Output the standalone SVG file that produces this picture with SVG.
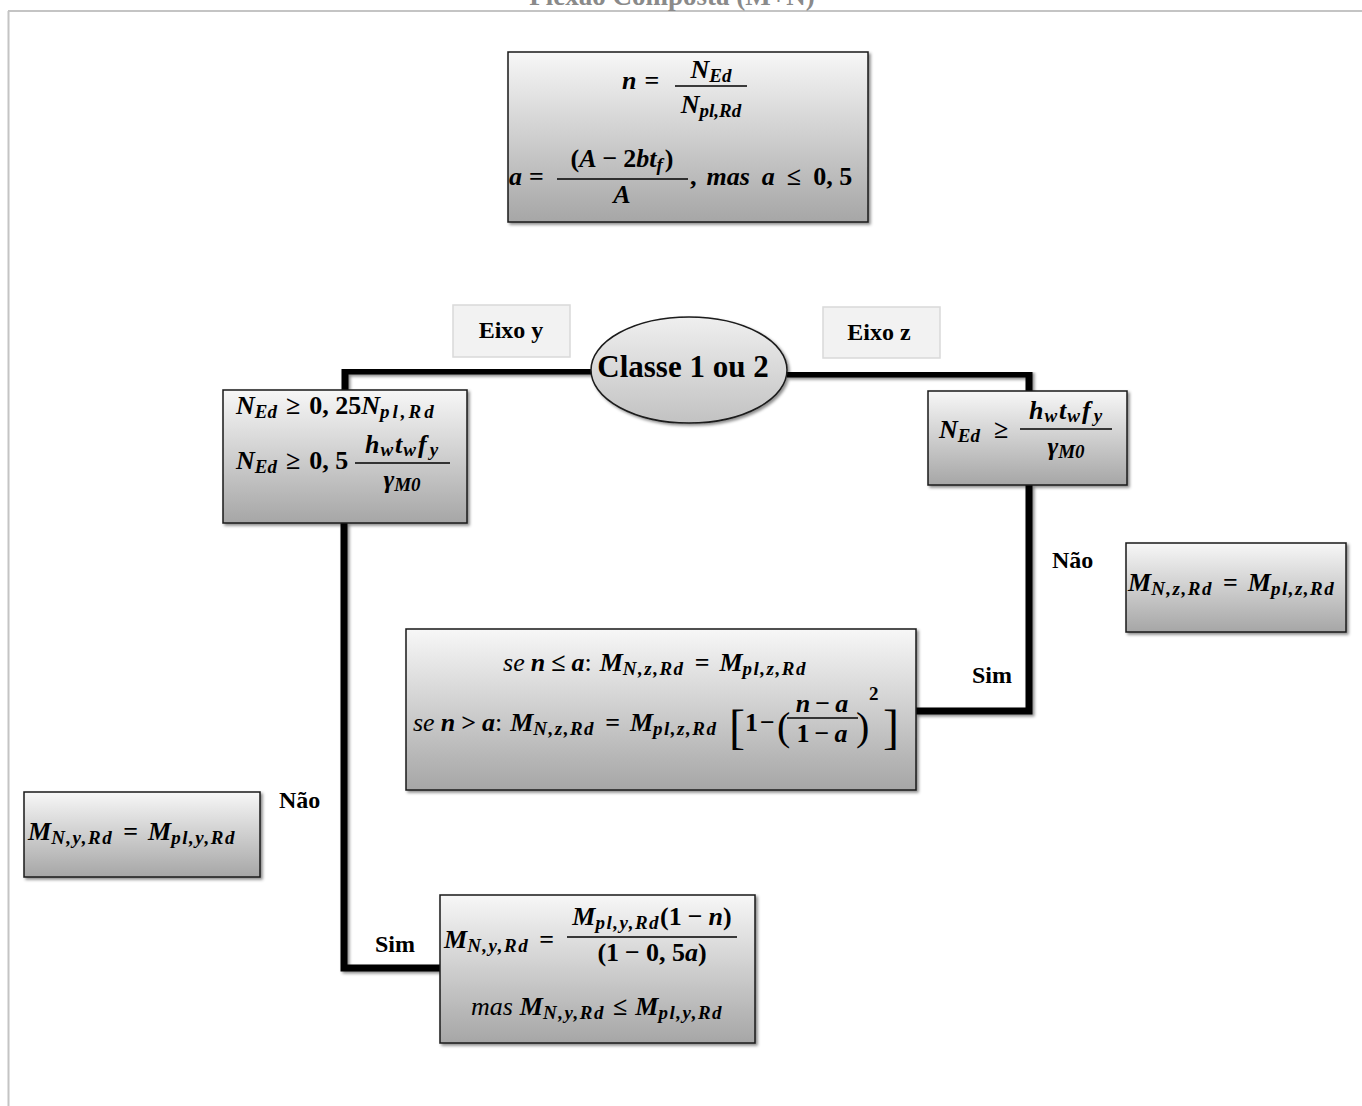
<svg xmlns="http://www.w3.org/2000/svg" width="1362" height="1106" viewBox="0 0 1362 1106">
<style>
.mi{font-family:"Liberation Serif","Times New Roman",serif;font-weight:bold;font-style:italic;font-size:26px;fill:#000}
.up{font-style:normal}
.sb{font-size:19px}
.it{font-weight:normal}
.br{font-family:"Liberation Serif","Times New Roman",serif;font-weight:normal;font-style:normal;fill:#000}
.lbl{font-family:"Liberation Serif","Times New Roman",serif;font-weight:bold;font-size:24px;fill:#000}
.box{fill:url(#g);stroke:#1a1a1a;stroke-width:1.5;filter:url(#sh)}
.bar{stroke:#000;stroke-width:1.5}
.conn{fill:none;stroke:#000;stroke-width:7;stroke-linejoin:miter;filter:url(#sh)}
.tag{fill:#f2f2f2;stroke:#d9d9d9;stroke-width:1.5}
</style>
<defs>
<linearGradient id="g" x1="0" y1="0" x2="0" y2="1">
<stop offset="0" stop-color="#f7f7f7"/>
<stop offset="1" stop-color="#a6a6a6"/>
</linearGradient>
<linearGradient id="ge" x1="0" y1="0" x2="0" y2="1">
<stop offset="0" stop-color="#efefef"/>
<stop offset="1" stop-color="#c2c2c2"/>
</linearGradient>
<filter id="sh" x="-10%" y="-10%" width="130%" height="130%">
<feDropShadow dx="2" dy="2" stdDeviation="1.5" flood-color="#000" flood-opacity="0.45"/>
</filter>
</defs>

<rect width="1362" height="1106" fill="#fff"/>
<g id="frame">
<path d="M8 11 H1362 M8.5 11 V1106" fill="none" stroke="#c4c4c4" stroke-width="2"/>
<text x="672" y="5" text-anchor="middle" font-family="Liberation Serif, serif" font-weight="bold" font-size="27" fill="#8a8a8a">Flexão Composta (M+N)</text>
</g>

<g id="connectors">
<path class="conn" d="M689 222 V318"/>
<path class="conn" d="M591 371 H345 V390"/>
<path class="conn" d="M787 374 H1029 V391"/>
<path class="conn" d="M1029 485 V711 H916"/>
<path class="conn" d="M1029 586 H1126"/>
<path class="conn" d="M344 523 V968 H440"/>
<path class="conn" d="M344 832 H260"/>
</g>

<g id="labels">
<rect class="tag" x="453" y="305" width="117" height="52"/>
<text class="lbl" x="511" y="338" text-anchor="middle" font-size="25">Eixo y</text>
<rect class="tag" x="823" y="307" width="117" height="51"/>
<text class="lbl" x="879" y="340" text-anchor="middle" font-size="25">Eixo z</text>
<text class="lbl" x="1052" y="568">Não</text>
<text class="lbl" x="972" y="683">Sim</text>
<text class="lbl" x="279" y="808">Não</text>
<text class="lbl" x="375" y="952">Sim</text>
</g>

<g id="top-box">
<rect class="box" x="508" y="52" width="360" height="170"/>
<text class="mi" x="622" y="89">n<tspan class="up" dx="8">=</tspan></text>
<text class="mi" x="711" y="78" text-anchor="middle">N<tspan class="sb" dy="4">Ed</tspan></text>
<line class="bar" x1="675" y1="86" x2="747" y2="86"/>
<text class="mi" x="711" y="113" text-anchor="middle">N<tspan class="sb" dy="4">pl,Rd</tspan></text>
<text class="mi" x="509" y="185">a<tspan class="up" dx="7">=</tspan></text>
<text class="mi" x="622" y="167" text-anchor="middle"><tspan class="up">(</tspan>A<tspan class="up" dx="6">−</tspan><tspan class="up" dx="6">2</tspan>bt<tspan class="sb" dy="4">f</tspan><tspan class="up" dy="-4" dx="2">)</tspan></text>
<line class="bar" x1="557" y1="179" x2="688" y2="179"/>
<text class="mi" x="622" y="203" text-anchor="middle">A</text>
<text class="mi" x="690" y="185"><tspan class="up">,</tspan><tspan dx="10">mas</tspan><tspan dx="12">a</tspan><tspan class="up" dx="12">≤</tspan><tspan class="up" dx="12">0, 5</tspan></text>
</g>

<g id="ellipse">
<ellipse cx="689" cy="370" rx="98" ry="53" fill="url(#ge)" stroke="#1a1a1a" stroke-width="1.5" filter="url(#sh)"/>
<text x="683" y="377" text-anchor="middle" font-family="Liberation Serif, serif" font-weight="bold" font-size="31">Classe 1 ou 2</text>
</g>

<g id="left-box">
<rect class="box" x="223" y="390" width="244" height="133"/>
<text class="mi" x="236" y="414">N<tspan class="sb" dy="4">Ed</tspan><tspan class="up" dy="-4" dx="9">≥</tspan><tspan class="up" dx="9">0, 25</tspan>N<tspan class="sb" dy="4" letter-spacing="3">pl,Rd</tspan></text>
<text class="mi" x="236" y="469">N<tspan class="sb" dy="4">Ed</tspan><tspan class="up" dy="-4" dx="9">≥</tspan><tspan class="up" dx="9">0, 5</tspan></text>
<text class="mi" x="402" y="453" text-anchor="middle" letter-spacing="1">h<tspan class="sb" dy="3">w</tspan><tspan dy="-3" dx="1">t</tspan><tspan class="sb" dy="3">w</tspan><tspan dy="-3" dx="1">f</tspan><tspan class="sb" dy="3" dx="2">y</tspan></text>
<line class="bar" x1="355" y1="463" x2="450" y2="463"/>
<text class="mi" x="402" y="488" text-anchor="middle">γ<tspan class="sb" dy="3">M0</tspan></text>
</g>

<g id="right-box">
<rect class="box" x="928" y="391" width="199" height="94"/>
<text class="mi" x="939" y="438">N<tspan class="sb" dy="4">Ed</tspan><tspan class="up" dy="-4" dx="14">≥</tspan></text>
<text class="mi" x="1066" y="419" text-anchor="middle" letter-spacing="1">h<tspan class="sb" dy="3">w</tspan><tspan dy="-3" dx="1">t</tspan><tspan class="sb" dy="3">w</tspan><tspan dy="-3" dx="1">f</tspan><tspan class="sb" dy="3" dx="2">y</tspan></text>
<line class="bar" x1="1020" y1="429" x2="1112" y2="429"/>
<text class="mi" x="1066" y="455" text-anchor="middle">γ<tspan class="sb" dy="3">M0</tspan></text>
</g>

<g id="mz-box">
<rect class="box" x="1126" y="543" width="220" height="89"/>
<text class="mi" x="1128" y="591">M<tspan class="sb" dy="4" letter-spacing="1.5">N,z,Rd</tspan><tspan class="up" dy="-4" dx="10">=</tspan><tspan dx="10">M</tspan><tspan class="sb" dy="4" letter-spacing="1.5">pl,z,Rd</tspan></text>
</g>

<g id="big-box">
<rect class="box" x="406" y="629" width="510" height="161"/>
<text class="mi" x="655" y="671" text-anchor="middle"><tspan class="it">se</tspan><tspan dx="6">n</tspan><tspan class="up" dx="6">≤</tspan><tspan dx="6">a</tspan><tspan class="up it">:</tspan><tspan dx="8">M</tspan><tspan class="sb" dy="4" letter-spacing="1.5">N,z,Rd</tspan><tspan class="up" dy="-4" dx="10">=</tspan><tspan dx="10">M</tspan><tspan class="sb" dy="4" letter-spacing="1.5">pl,z,Rd</tspan></text>
<text class="mi" x="413" y="731"><tspan class="it">se</tspan><tspan dx="6">n</tspan><tspan class="up" dx="6">&gt;</tspan><tspan dx="6">a</tspan><tspan class="up it">:</tspan><tspan dx="8">M</tspan><tspan class="sb" dy="4" letter-spacing="1.5">N,z,Rd</tspan><tspan class="up" dy="-4" dx="10">=</tspan><tspan dx="10">M</tspan><tspan class="sb" dy="4" letter-spacing="1.5">pl,z,Rd</tspan></text>
<text class="br" x="729" y="743" style="font-size:48px">[</text>
<text class="mi up" x="745" y="731">1</text>
<text class="mi up" x="760" y="731">−</text>
<text class="br" x="777" y="740" style="font-size:40px">(</text>
<text class="mi" x="822" y="712" text-anchor="middle">n<tspan class="up" dx="5">−</tspan><tspan dx="5">a</tspan></text>
<line class="bar" x1="787" y1="718" x2="858" y2="718"/>
<text class="mi" x="822" y="742" text-anchor="middle"><tspan class="up">1</tspan><tspan class="up" dx="5">−</tspan><tspan dx="5">a</tspan></text>
<text class="br" x="856" y="740" style="font-size:40px">)</text>
<text class="mi up sb" x="869" y="700">2</text>
<text class="br" x="883" y="743" style="font-size:48px">]</text>
</g>

<g id="my-box">
<rect class="box" x="24" y="792" width="236" height="85"/>
<text class="mi" x="28" y="840">M<tspan class="sb" dy="4" letter-spacing="1.5">N,y,Rd</tspan><tspan class="up" dy="-4" dx="10">=</tspan><tspan dx="10">M</tspan><tspan class="sb" dy="4" letter-spacing="1.5">pl,y,Rd</tspan></text>
</g>

<g id="bottom-box">
<rect class="box" x="440" y="895" width="315" height="148"/>
<text class="mi" x="444" y="948">M<tspan class="sb" dy="4" letter-spacing="1.5">N,y,Rd</tspan><tspan class="up" dy="-4" dx="10">=</tspan></text>
<text class="mi" x="652" y="925" text-anchor="middle">M<tspan class="sb" dy="4" letter-spacing="1.5">pl,y,Rd</tspan><tspan class="up" dy="-4">(1</tspan><tspan class="up" dx="6">−</tspan><tspan dx="6">n</tspan><tspan class="up">)</tspan></text>
<line class="bar" x1="567" y1="937" x2="737" y2="937"/>
<text class="mi" x="652" y="961" text-anchor="middle"><tspan class="up">(1</tspan><tspan class="up" dx="6">−</tspan><tspan class="up" dx="6">0, 5</tspan>a<tspan class="up">)</tspan></text>
<text class="mi" x="597" y="1015" text-anchor="middle"><tspan class="it">mas</tspan><tspan dx="7">M</tspan><tspan class="sb" dy="4" letter-spacing="1.5">N,y,Rd</tspan><tspan class="up" dy="-4" dx="8">≤</tspan><tspan dx="8">M</tspan><tspan class="sb" dy="4" letter-spacing="1.5">pl,y,Rd</tspan></text>
</g>
</svg>
